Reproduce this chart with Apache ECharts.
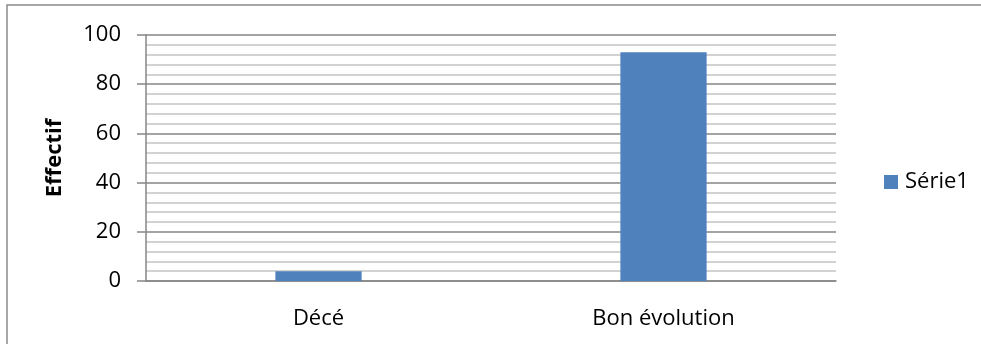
<!DOCTYPE html>
<html>
<head>
<meta charset="utf-8">
<script src="https://cdn.jsdelivr.net/npm/echarts@6/dist/echarts.min.js"></script>
<style>
  html, body { margin: 0; padding: 0; background: #fff; }
  #chart { width: 981px; height: 344px; }
</style>
</head>
<body>
<div id="chart"></div>
<script>
// données
var categories = ['Décé', 'Bon évolution']
var serie1 = [4, 93]
var seriesName = 'Série1'
var yTitle = 'Effectif'

var font = '"Open Sans", sans-serif'
var myChart = echarts.init(document.getElementById('chart'))

var option = {
  animation: false,
  backgroundColor: '#fff',
  textStyle: { fontFamily: font },
  graphic: [
    {
      type: 'rect',
      shape: { x: 7, y: 5, width: 1200, height: 600 },
      style: { fill: 'none', stroke: '#8a8a8a', lineWidth: 1.5 },
      silent: true
    },
    {
      type: 'text',
      x: 55,
      y: 158,
      rotation: Math.PI / 2,
      style: {
        text: yTitle,
        fill: '#000',
        font: 'bold 22px "Open Sans", sans-serif',
        align: 'center',
        verticalAlign: 'middle'
      }
    }
  ],
  legend: {
    data: [seriesName],
    left: 879,
    top: 166,
    orient: 'vertical',
    itemWidth: 14,
    itemHeight: 14,
    itemGap: 7,
    icon: 'rect',
    textStyle: { fontSize: 22, color: '#000', fontFamily: font, padding: [0, 0, 0, 2] }
  },
  grid: {
    left: 146,
    top: 35,
    width: 690,
    height: 246,
    containLabel: false
  },
  xAxis: {
    type: 'category',
    data: categories,
    axisLine: { show: true, lineStyle: { color: '#868686', width: 1.5 } },
    axisTick: { show: false },
    axisLabel: { color: '#000', fontSize: 22, fontFamily: font, margin: 27 },
    splitLine: { show: false }
  },
  yAxis: {
    type: 'value',
    min: 0,
    max: 100,
    interval: 20,
    axisLine: { show: true, lineStyle: { color: '#868686', width: 1.5 } },
    axisTick: { show: true, inside: false, length: 9, lineStyle: { color: '#868686', width: 1.5 } },
    axisLabel: { color: '#000', fontSize: 22, fontFamily: font, margin: 25 },
    splitLine: { show: true, lineStyle: { color: '#868686', width: 1.5 } },
    minorTick: { show: false, splitNumber: 5 },
    minorSplitLine: { show: true, lineStyle: { color: '#c3c3c3', width: 1.5 } }
  },
  series: [
    {
      name: seriesName,
      type: 'bar',
      data: serie1,
      barWidth: '25%',
      itemStyle: { color: '#4f81bd' }
    }
  ]
}

myChart.setOption(option)
</script>
</body>
</html>
